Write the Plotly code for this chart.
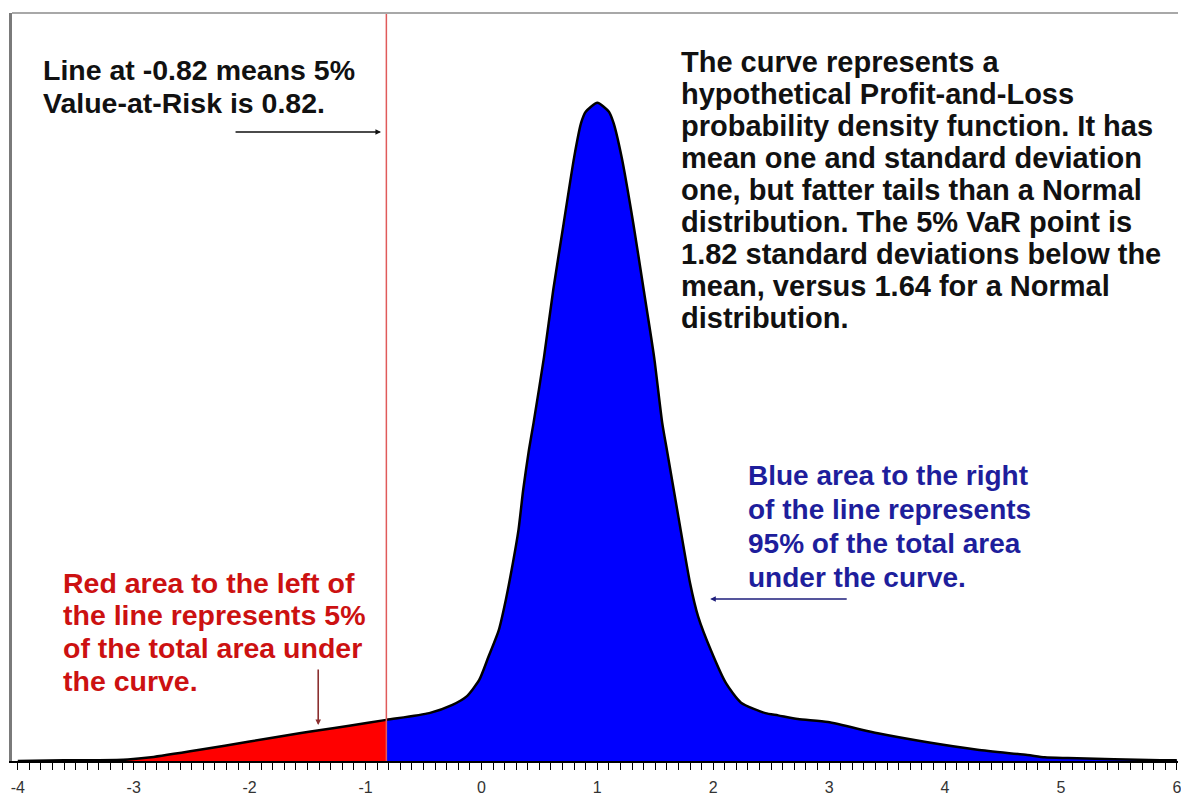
import plotly.graph_objects as go

# ---- data ----
pnl_x = [-4.0, -3.6, -3.3, -3.05, -2.85, -2.43, -2.0, -1.57, -1.4, -1.14, -0.82,
         -0.45, -0.25, -0.13, -0.02, 0.06, 0.15, 0.21, 0.26, 0.32, 0.36, 0.41, 0.45,
         0.54, 0.62, 0.71, 0.80, 0.86, 0.90, 1.00, 1.10, 1.14, 1.21, 1.31, 1.40,
         1.49, 1.56, 1.60, 1.70, 1.80, 1.87, 1.98, 2.11, 2.24, 2.45, 2.56, 2.73,
         2.99, 3.42, 3.85, 4.28, 4.71, 4.86, 5.06, 5.86, 6.0]
pnl_density = [0.000, 0.001, 0.001, 0.002, 0.005, 0.015, 0.026, 0.037, 0.041, 0.047, 0.055,
               0.064, 0.075, 0.086, 0.108, 0.139, 0.175, 0.215, 0.255, 0.309, 0.362, 0.416, 0.452,
               0.540, 0.630, 0.719, 0.807, 0.853, 0.868, 0.880, 0.868, 0.853, 0.807, 0.719, 0.630,
               0.540, 0.452, 0.416, 0.326, 0.238, 0.193, 0.148, 0.104, 0.078, 0.064, 0.061, 0.056,
               0.052, 0.037, 0.025, 0.015, 0.008, 0.005, 0.004, 0.001, 0.001]
var_line = -0.82
tick_values = [-4, -3, -2, -1, 0, 1, 2, 3, 4, 5, 6]
tick_labels = ["-4", "-3", "-2", "-1", "0", "1", "2", "3", "4", "5", "6"]

text_topleft = ["Line at -0.82 means 5%", "Value-at-Risk is 0.82."]
text_right = ["The curve represents a",
              "hypothetical Profit-and-Loss",
              "probability density function. It has",
              "mean one and standard deviation",
              "one, but fatter tails than a Normal",
              "distribution. The 5% VaR point is",
              "1.82 standard deviations below the",
              "mean, versus 1.64 for a Normal",
              "distribution."]
text_blue = ["Blue area to the right", "of the line represents",
             "95% of the total area", "under the curve."]
text_red = ["Red area to the left of", "the line represents 5%",
            "of the total area under", "the curve."]

# ---- geometry of the page ----
W, H = 1181, 796
L, R, T, B = 12, 0, 13, 35
PW, PH = W - L - R, H - T - B


def px2x(px):
    return (px - L) / PW


def py2y(py):
    return (H - B - py) / PH


red_x = [x for x in pnl_x if x <= var_line]
red_y = [y for x, y in zip(pnl_x, pnl_density) if x <= var_line]
blue_x = [x for x in pnl_x if x >= var_line]
blue_y = [y for x, y in zip(pnl_x, pnl_density) if x >= var_line]

fig = go.Figure()
fig.add_trace(go.Scatter(x=red_x, y=red_y, mode="lines", fill="tozeroy",
                         fillcolor="#ff0000",
                         line=dict(width=0, color="#ff0000", shape="spline", smoothing=0.6),
                         hoverinfo="skip"))
fig.add_trace(go.Scatter(x=blue_x, y=blue_y, mode="lines", fill="tozeroy",
                         fillcolor="#0000ff",
                         line=dict(width=0, color="#0000ff", shape="spline", smoothing=0.6),
                         hoverinfo="skip"))
fig.add_trace(go.Scatter(x=pnl_x, y=pnl_density, mode="lines",
                         line=dict(color="black", width=2.5, shape="spline", smoothing=0.6),
                         hoverinfo="skip"))

# VaR line
fig.add_shape(type="line", xref="x", yref="paper", x0=var_line, x1=var_line, y0=0, y1=1,
              line=dict(color="#e05a5a", width=1.5), layer="above")
# top frame line
fig.add_shape(type="line", xref="paper", yref="paper", x0=0, x1=1, y0=1, y1=1,
              line=dict(color="#a8a8a8", width=2))

FONT = "Liberation Sans, Arial, sans-serif"
FS = 28


def add_lines(lines, x_px, y_px_list, color, size=FS):
    for s, ypx in zip(lines, y_px_list):
        fig.add_annotation(text="<b>" + s + "</b>", xref="paper", yref="paper",
                           x=px2x(x_px), y=py2y(ypx), xanchor="left", yanchor="middle",
                           showarrow=False, font=dict(family=FONT, size=size, color=color))


add_lines(text_topleft, 41, [70, 103], "#111111", 28.5)
add_lines(text_right, 681, [62, 94, 126, 158, 190, 222, 254, 286, 318], "#111111", 29)
add_lines(text_blue, 748, [475, 509, 543, 577], "#1e1e9c")
add_lines(text_red, 61, [583, 615, 648, 681], "#cc1111", 28.5)


def add_arrow(tail, head, color):
    fig.add_annotation(text="", xref="paper", yref="paper",
                       x=px2x(head[0]), y=py2y(head[1]),
                       ax=tail[0] - head[0], ay=tail[1] - head[1],
                       showarrow=True, arrowhead=2, arrowsize=0.7, arrowwidth=1.6,
                       arrowcolor=color, standoff=0, startstandoff=0)


add_arrow((235, 132), (382, 132), "#111111")
add_arrow((850, 599), (712, 599), "#1e1e7c")
add_arrow((319, 668), (319, 725), "#8b2f2f")

fig.update_layout(
    width=W, height=H,
    margin=dict(l=L, r=R, t=T, b=B),
    paper_bgcolor="white", plot_bgcolor="white",
    showlegend=False,
    xaxis=dict(range=[-4.05, 6.01], tickvals=tick_values, ticktext=tick_labels,
               ticks="outside", ticklen=7, tickwidth=1.3, tickcolor="black",
               showline=True, linecolor="black", linewidth=2, showgrid=False,
               zeroline=False, fixedrange=True, ticklabeloverflow="allow",
               ticklabelstandoff=4,
               tickfont=dict(family=FONT, size=16, color="#333333"),
               minor=dict(dtick=0.1, tick0=0, ticks="outside", ticklen=7,
                          tickwidth=1.3, tickcolor="black", showgrid=False)),
    yaxis=dict(range=[0, 1.0], showline=True, linecolor="#7a7a7a", linewidth=2.5,
               showticklabels=False, ticks="", showgrid=False, zeroline=False,
               fixedrange=True),
)

fig.write_html("out.html", post_script="document.body.style.margin='0';",
               config={"displayModeBar": False})
